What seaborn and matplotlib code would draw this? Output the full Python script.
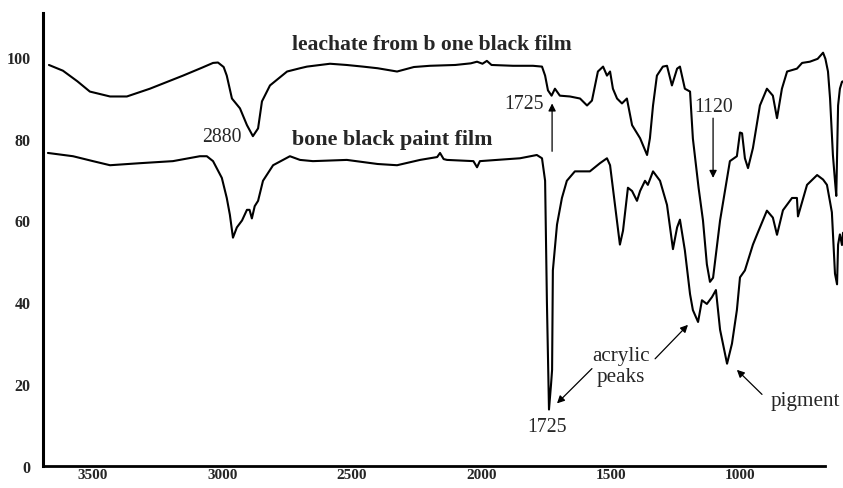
import matplotlib
matplotlib.use("Agg")
import matplotlib.pyplot as plt
import seaborn as sns
import pandas as pd

# ---- data (wavenumber cm-1, transmittance %) ----
leach_wn = [3670, 3616, 3560, 3512, 3434, 3369, 3280, 3152, 3080, 3036, 3017, 2995,
            2983, 2963, 2932, 2905, 2882, 2862, 2847, 2816, 2750, 2700, 2673, 2584,
            2520, 2457, 2400, 2325, 2260, 2198, 2100, 2040, 2016, 1995, 1978, 1960,
            1877, 1800, 1765, 1753, 1742, 1728, 1715, 1696, 1657, 1618, 1591, 1572,
            1549, 1529, 1514, 1502, 1491, 1475, 1456, 1437, 1417, 1386, 1359, 1348,
            1336, 1321, 1298, 1282, 1263, 1243, 1232, 1213, 1193, 1182, 1160, 1143,
            1128, 1116, 1104, 1077, 1039, 1012, 1000, 992, 981, 969, 950, 923, 896,
            873, 857, 838, 818, 780, 760, 730, 700, 679, 670, 660, 652, 641, 633,
            628, 621, 614, 606, 602]
leach_t = [98.0, 96.6, 94.0, 91.5, 90.3, 90.3, 92.2, 95.4, 97.3, 98.5, 98.6, 97.5,
           95.4, 89.8, 87.4, 83.3, 80.6, 82.5, 89.1, 93.0, 96.4, 97.2, 97.6, 98.3,
           98.0, 97.6, 97.2, 96.4, 97.5, 97.8, 98.0, 98.4, 98.8, 98.3, 99.0, 98.0,
           97.8, 97.8, 97.6, 95.4, 91.8, 90.5, 92.2, 90.5, 90.3, 89.8, 88.1, 89.3,
           96.4, 97.6, 95.4, 96.4, 92.2, 89.8, 88.6, 89.8, 83.3, 80.1, 76.0, 80.1,
           88.1, 95.4, 97.6, 97.8, 93.0, 97.1, 97.6, 92.2, 91.5, 80.0, 68.0, 60.0,
           49.3, 45.0, 46.0, 60.0, 74.5, 75.7, 81.5, 81.3, 75.2, 72.8, 77.7, 88.1, 92.2,
           90.5, 85.0, 92.2, 96.4, 97.1, 98.5, 98.8, 99.5, 101.0, 99.5, 96.4, 89.8, 76.0, 69.7,
           66.0, 88.1, 92.2, 93.9, 94.0]

paint_wn = [3674, 3577, 3500, 3434, 3318, 3191, 3087, 3060, 3036, 3002, 2983, 2971,
            2959, 2944, 2924, 2905, 2895, 2886, 2875, 2862, 2843, 2804, 2739, 2700,
            2650, 2519, 2400, 2325, 2236, 2170, 2159, 2145, 2132, 2030, 2016, 2005,
            1939, 1850, 1785, 1765, 1753, 1746, 1738, 1730, 1726, 1723, 1707, 1688,
            1669, 1638, 1580, 1541, 1514, 1502, 1483, 1464, 1452, 1433, 1417, 1398,
            1386, 1367, 1356, 1336, 1309, 1282, 1259, 1243, 1232, 1213, 1193, 1182,
            1162, 1147, 1128, 1108, 1093, 1077, 1050, 1031, 1012, 1000, 981, 950, 934,
            896, 873, 857, 834, 799, 780, 776, 741, 702, 679, 664, 652, 645, 633, 625,
            621, 614, 606, 602]
paint_t = [76.5, 75.7, 74.5, 73.5, 74.0, 74.5, 75.7, 75.7, 74.5, 70.4, 65.5, 61.4,
           55.8, 58.3, 60.0, 62.6, 62.6, 60.5, 63.5, 64.8, 69.7, 73.5, 75.7, 74.8,
           74.5, 74.8, 73.8, 73.5, 74.8, 75.5, 76.5, 75.0, 74.8, 74.5, 73.0, 74.5,
           74.8, 75.2, 76.0, 75.2, 69.7, 40.0, 13.8, 20.0, 23.5, 47.8, 59.0, 65.5,
           69.7, 72.0, 72.0, 74.0, 75.2, 73.5, 63.8, 54.1, 57.5, 68.0, 67.2, 64.8,
           67.2, 69.7, 68.7, 72.0, 69.7, 63.8, 53.0, 58.3, 60.2, 52.7, 42.0, 38.1,
           35.2, 40.5, 39.6, 41.3, 43.0, 33.3, 25.0, 29.9, 38.1, 46.1, 47.8, 54.1, 56.6,
           62.4, 60.7, 56.5, 62.5, 65.5, 65.5, 61.0, 68.7, 71.1, 70.0, 68.7, 64.5, 62.0, 47.0, 44.4,
           54.1, 56.6, 54.0, 57.0]

x_ticks = [3500, 3000, 2500, 2000, 1500, 1000]
y_ticks = [0, 20, 40, 60, 80, 100]

sns.set_style("white")
plt.rcParams['font.family'] = ['Liberation Serif', 'DejaVu Serif']

fig = plt.figure(figsize=(8.43, 4.89), dpi=100)
ax = fig.add_axes([43 / 843, 22 / 489, 800 / 843, 453 / 489])

df_l = pd.DataFrame({"wn": leach_wn, "T": leach_t})
df_p = pd.DataFrame({"wn": paint_wn, "T": paint_t})
sns.lineplot(data=df_l, x="wn", y="T", color="black", lw=1.5, ax=ax, estimator=None)
sns.lineplot(data=df_p, x="wn", y="T", color="black", lw=1.5, ax=ax, estimator=None)

ax.set_xlim(3693, 602)
ax.set_ylim(0, 110.7)
ax.set_xticks(x_ticks)
ax.set_yticks(y_ticks)
ax.set_xticklabels([str(v) for v in x_ticks], fontsize=11, fontweight="bold")
ax.set_yticklabels([str(v) for v in y_ticks], fontsize=11.5, fontweight="bold")
ax.tick_params(axis="both", length=0)
ax.tick_params(axis="x", pad=1.5)
ax.tick_params(axis="y", pad=9)
ax.set_xlabel("")
ax.set_ylabel("")

for s in ["top", "right"]:
    ax.spines[s].set_visible(False)
ax.spines["left"].set_linewidth(2.2)
ax.spines["bottom"].set_linewidth(2.0)
ax.spines["left"].set_color("black")
ax.spines["bottom"].set_color("black")
ax.spines["bottom"].set_bounds(3693, 672)

# series labels
ax.text(2731, 103.2, "leachate from b one black film", fontsize=15.6, fontweight="bold",
        ha="left", va="center")
ax.text(2731, 79.9, "bone black paint film", fontsize=15.8, fontweight="bold",
        ha="left", va="center")

# annotations
fn = 14.2
fw = 15.2
ax.text(3002, 80.6, "2880", fontsize=fn, ha="center", va="center")
ax.text(1835, 88.6, "1725", fontsize=fn, ha="center", va="center")
ax.text(1100, 87.9, "1120", fontsize=fn, ha="center", va="center")
ax.text(1746, 9.7, "1725", fontsize=fn, ha="center", va="center")
ax.text(1460, 24.5, "acrylic\npeaks", fontsize=fw, ha="center", va="center", linespacing=1.15)
ax.text(749, 16.0, "pigment", fontsize=fw, ha="center", va="center")

arrow_kw = dict(arrowstyle="-|>", color="black", lw=0.9, mutation_scale=11,
                shrinkA=0, shrinkB=0)
arrows = [((1726, 76.9), (1726, 88.6)),
          ((1104, 85.0), (1104, 70.4)),
          ((1572, 23.8), (1707, 15.3)),
          ((1328, 26.2), (1201, 34.5)),
          ((915, 17.5), (1012, 23.5))]
for tail, head in arrows:
    ax.annotate("", xy=head, xytext=tail, arrowprops=arrow_kw)

fig.savefig("out.png", dpi=100)
